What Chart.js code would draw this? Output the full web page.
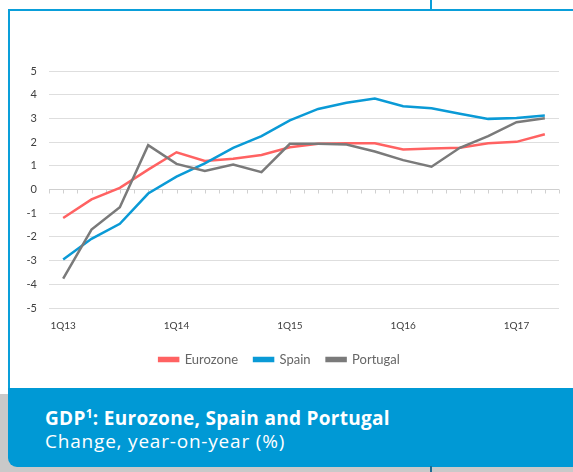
<!DOCTYPE html>
<html lang="en">
<head>
  <meta charset="UTF-8" />
  <title>GDP: Eurozone, Spain and Portugal</title>
  <script src="https://cdn.jsdelivr.net/npm/chart.js"></script>
  <style>
    body { margin: 0; width: 573px; height: 472px; overflow: hidden; background: #fff; position: relative; }
    .shadow { position: absolute; left: 0; top: 394px; width: 573px; height: 78px; background: #c9c9c9; }
    .frame { position: absolute; left: 8px; top: 9px; width: 600px; height: 390px; border-left: 2px solid #0a9fda; border-top: 2px solid #0a9fda; background: #fff; }
    .mark-top { position: absolute; left: 430px; top: 0; width: 2px; height: 10px; background: #0a9fda; }
    .mark-bottom { position: absolute; left: 430px; top: 466px; width: 2px; height: 6px; background: #1b6d96; }
    .panel { position: absolute; left: 8px; top: 388px; width: 600px; height: 79px; background: #0099d5; border-bottom-left-radius: 9px; }
    .title { position: absolute; left: 45px; top: 405px; color: #fff; font: bold 19px "Open Sans", sans-serif; letter-spacing: 0.3px; white-space: nowrap; }
    .title sup { font-size: 12px; vertical-align: 7px; }
    .subtitle { position: absolute; left: 45px; top: 428px; color: #fff; font: 19px "Open Sans", sans-serif; letter-spacing: 0.8px; white-space: nowrap; }
    #wrap { position: absolute; left: 0; top: 0; width: 573px; height: 388px; }
  </style>
</head>
<body>
  <div class="shadow"></div>
  <div class="frame"></div>
  <div class="mark-top"></div>
  <div class="panel"></div>
  <div class="mark-bottom"></div>
  <div class="title">GDP<sup>1</sup>: Eurozone, Spain and Portugal</div>
  <div class="subtitle">Change, year-on-year (%)</div>
  <div id="wrap"><canvas id="gdpChart"></canvas></div>

<script>
  // Quarterly data, 1Q13 - 2Q17 (year-on-year change, %)
  const quarters = ['1Q13','2Q13','3Q13','4Q13','1Q14','2Q14','3Q14','4Q14','1Q15','2Q15','3Q15','4Q15','1Q16','2Q16','3Q16','4Q16','1Q17','2Q17'];
  const eurozone = [-1.2, -0.42, 0.07, 0.84, 1.57, 1.2, 1.3, 1.46, 1.78, 1.93, 1.95, 1.95, 1.69, 1.73, 1.76, 1.95, 2.01, 2.33];
  const spain    = [-2.95, -2.08, -1.45, -0.17, 0.54, 1.1, 1.76, 2.25, 2.92, 3.4, 3.66, 3.84, 3.51, 3.43, 3.2, 2.98, 3.02, 3.12];
  const portugal = [-3.76, -1.69, -0.75, 1.87, 1.08, 0.78, 1.05, 0.73, 1.93, 1.93, 1.9, 1.6, 1.24, 0.96, 1.76, 2.25, 2.84, 3.01];
  const yTicks = [-5, 5];

  // small tick marks along the zero line, at category centres and edges
  const zeroTicks = {
    id: 'zeroTicks',
    beforeDatasetsDraw(chart) {
      const x = chart.scales.x, y = chart.scales.y, ctx = chart.ctx;
      const y0 = y.getPixelForValue(0);
      const half = (x.getPixelForValue(1) - x.getPixelForValue(0)) / 2;
      const start = x.getPixelForValue(0) - half;
      ctx.save();
      ctx.strokeStyle = '#d0d0d0';
      ctx.lineWidth = 1;
      ctx.beginPath();
      for (let i = 0; i <= quarters.length * 2; i++) {
        const px = Math.round(start + i * half) + 0.5;
        ctx.moveTo(px, y0);
        ctx.lineTo(px, y0 + 4);
      }
      ctx.stroke();
      ctx.restore();
    }
  };

  const line = (label, data, color, order) => ({
    label, data, order,
    borderColor: color,
    backgroundColor: color,
    borderWidth: 2.5,
    pointRadius: 0,
    tension: 0
  });

  new Chart(document.getElementById('gdpChart'), {
    type: 'line',
    data: {
      labels: quarters,
      datasets: [
        line('Eurozone', eurozone, '#ff6262', 2),
        line('Spain', spain, '#0a9ad6', 1),
        line('Portugal', portugal, '#7a7a7a', 0)
      ]
    },
    options: {
      responsive: true,
      maintainAspectRatio: false,
      animation: false,
      layout: { padding: { top: 71, right: 14, bottom: 12, left: 0 } },
      plugins: {
        tooltip: { enabled: false },
        legend: {
          position: 'bottom',
          labels: {
            sort: (a, b) => a.datasetIndex - b.datasetIndex,
            boxWidth: 19,
            boxHeight: 3,
            padding: 16,
            color: '#666666',
            font: { family: 'Lato', size: 13 }
          }
        }
      },
      scales: {
        x: {
          offset: true,
          grid: { display: false },
          border: { display: false },
          afterFit: s => { s.height = 29; },
          ticks: {
            autoSkip: false,
            maxRotation: 0,
            padding: 4,
            color: '#404040',
            font: { family: 'Lato', size: 10 },
            callback: function (v) {
              const l = this.getLabelForValue(v);
              return l.startsWith('1Q') ? l : '';
            }
          }
        },
        y: {
          min: yTicks[0],
          max: yTicks[1],
          border: { display: false },
          afterFit: s => { s.width = 49; },
          grid: {
            drawTicks: false,
            color: c => c.tick && c.tick.value === 0 ? '#cfcfcf' : '#dedede'
          },
          ticks: {
            stepSize: 1,
            padding: 12,
            color: '#404040',
            font: { family: 'Lato', size: 11 }
          }
        }
      }
    },
    plugins: [zeroTicks]
  });
</script>
</body>
</html>
